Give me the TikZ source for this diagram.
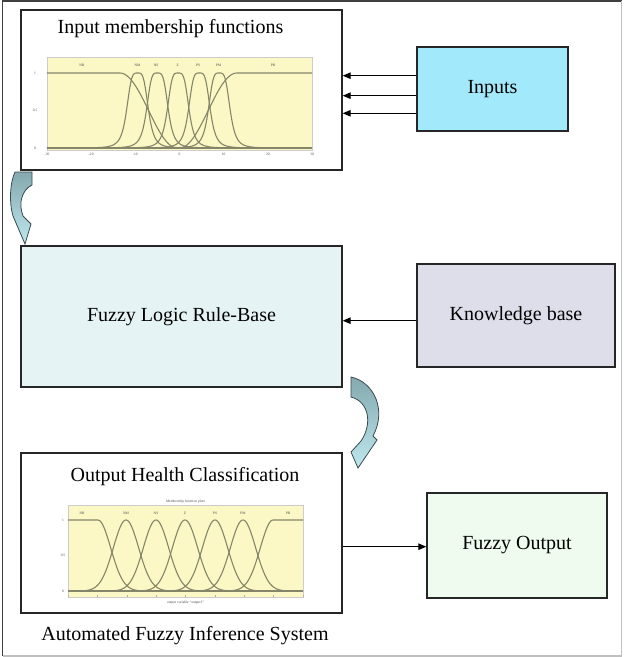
\documentclass[tikz,border=0pt]{standalone}
\usepackage{fontspec}
\setmainfont{Liberation Serif}
\usetikzlibrary{arrows.meta}

\definecolor{boxline}{HTML}{262626}
\definecolor{inputfill}{HTML}{A2E9FB}
\definecolor{rulefill}{HTML}{E6F3F5}
\definecolor{kbfill}{HTML}{DEDEEB}
\definecolor{outfill}{HTML}{EEFBEE}
\definecolor{plotyel}{HTML}{FBF8C6}
\definecolor{curvecol}{HTML}{85856A}
\definecolor{arrdark}{HTML}{84A9AF}
\definecolor{arrlight}{HTML}{BDE7EE}
\definecolor{arredge}{HTML}{3A4A4C}

\begin{document}
\begin{tikzpicture}[x=1pt,y=-1pt,
  box/.style={draw=boxline, line width=1.4pt, inner sep=0pt},
  lbl/.style={font=\fontsize{20}{23}\selectfont, inner sep=0pt},
  link/.style={draw=black, line width=1.1pt, -{Triangle[length=8pt,width=6.5pt]}},
  mfcurve/.style={draw=curvecol, line width=1.1pt},
  tinytxt/.style={font=\fontsize{3.6}{4}\selectfont, text=black!70, inner sep=0pt},
  bendarrow/.style={top color=arrdark, bottom color=arrlight, draw=arredge, line width=0.8pt}]

\useasboundingbox (0,0) rectangle (624,657);
\fill[white] (0,0) rectangle (624,657);

% outer frame
\draw[black!75, line width=1.2pt] (2.5,656) -- (2.5,1) -- (621.5,1);
\draw[black!25, line width=1.2pt] (621.5,1) -- (621.5,656) -- (2.5,656);

% boxes
\node[box, minimum width=321pt, minimum height=160pt] (inmf) at (181.5,90) {};
\node[lbl] (inmftitle) at (170.5,29) {Input membership functions};
\node[box, fill=inputfill, lbl, minimum width=151pt, minimum height=84pt] (inputs) at (492.5,89) {Inputs};
\node[box, fill=rulefill, lbl, minimum width=321pt, minimum height=141pt] (rulebase) at (181.5,316.5) {Fuzzy Logic Rule-Base};
\node[box, fill=kbfill, lbl, minimum width=198pt, minimum height=103pt] (kbase) at (516,315.5) {Knowledge base};
\node[box, minimum width=321pt, minimum height=160pt] (outcls) at (181.5,533) {};
\node[lbl] (outtitle) at (185,477) {Output Health Classification};
\node[box, fill=outfill, lbl, minimum width=180pt, minimum height=105pt] (fout) at (517,545.5) {Fuzzy Output};
\node[lbl] (systitle) at (185,636) {Automated Fuzzy Inference System};

% connectors
\coordinate (a1) at (0,75.7);
\coordinate (a2) at (0,95.7);
\coordinate (a3) at (0,113.3);
\coordinate (a4) at (0,320.7);
\coordinate (a5) at (0,546.7);
\draw[link] (a1 -| inputs.west) -- (a1 -| inmf.east);
\draw[link] (a2 -| inputs.west) -- (a2 -| inmf.east);
\draw[link] (a3 -| inputs.west) -- (a3 -| inmf.east);
\draw[link] (a4 -| kbase.west) -- (a4 -| rulebase.east);
\draw[link] (a5 -| outcls.east) -- (a5 -| fout.west);

% bent block arrows between the stages
\shadedraw[bendarrow]
  (15,172) -- (32,172) -- (32,185)
  .. controls (22,190) and (18,203) .. (23,216)
  -- (31,224) -- (25,244) -- (13,216)
  .. controls (9,203) and (10,182) .. (15,172) -- cycle;
\shadedraw[bendarrow]
  (351,377) .. controls (374,382) and (387,410) .. (373,436)
  -- (377,440) -- (358,468) -- (351,452) -- (361,441)
  .. controls (372,425) and (370,402) .. (351,397) -- cycle;

% ---------- input membership function plot ----------
\fill[plotyel] (47,57) rectangle (312,150);
\draw[black!20, line width=0.4pt] (47,57) rectangle (312,150);
\begin{scope}[shift={(179.5pt,-148pt)}, x=4.4167pt, y=75pt]
  \draw[mfcurve] (-30,0) -- (30,0);
  \draw[mfcurve] (-30,1) -- (-13.5,1)
     plot[domain=-13.5:-0.5, samples=40] (\x,{0.5+0.5*cos(180*(\x+13.5)/13)}) -- (30,0);
  \draw[mfcurve] (-30,0) -- (0,0)
     plot[domain=0:13, samples=40] (\x,{0.5-0.5*cos(180*\x/13)}) -- (30,1);
  \foreach \c in {-9.5,-5,-0.3,4.5,9}
    \draw[mfcurve] plot[domain=\c-12:\c+12, samples=97] (\x,{1/(1+((\x-\c)*(\x-\c)/6.25)^2)});
  \foreach \u/\t [count=\i] in {-22.1/NB,-9.5/NM,-5.3/NS,-0.4/Z,4.2/PS,8.8/PM,21.2/PB}
    \node[tinytxt] (inlab\i) at (\u,1.107) {\t};
  \foreach \u [count=\i] in {-30,-20,-10,0,10,20,30}
    \node[tinytxt] (intick\i) at (\u,-0.08) {\u};
  \node[tinytxt] (iny1) at (-32.7,1) {1};
  \node[tinytxt] (iny2) at (-32.7,0.5) {0.5};
  \node[tinytxt] (iny3) at (-32.7,0) {0};
\end{scope}

% ---------- output membership function plot ----------
\node[tinytxt] (outplottitle) at (185.5,501.5) {Membership function plots};
\fill[plotyel] (68,505) rectangle (303,597);
\draw[black!20, line width=0.4pt] (68,505) rectangle (303,597);
\foreach \k in {0,...,8}
  \draw[black!30, line width=0.4pt] (68+29.375*\k,597) -- (68+29.375*\k,594.5);
\begin{scope}[shift={(68pt,-591pt)}, x=1pt, y=71pt]
  \draw[mfcurve] (0,0) -- (235,0);
  \draw[mfcurve] (0,1) -- (30,1)
     plot[domain=30:80, samples=40] (\x,{exp(-((\x-30)^2)/322.6)}) -- (235,0);
  \draw[mfcurve] (0,0) -- (155,0)
     plot[domain=155:205, samples=40] (\x,{exp(-((\x-205)^2)/322.6)}) -- (235,1);
  \foreach \c in {58,88,117,147,175}
    \draw[mfcurve] plot[domain=\c-50:\c+50, samples=101] (\x,{exp(-((\x-\c)^2)/322.6)});
  \foreach \u/\t [count=\i] in {14/NB,58/NM,88/NS,117/Z,147/PS,175/PM,220/PB}
    \node[tinytxt] (outlab\i) at (\u,1.1) {\t};
  \node[tinytxt] (outy1) at (-5,1) {1};
  \node[tinytxt] (outy2) at (-5,0.5) {0.5};
  \node[tinytxt] (outy3) at (-5,0) {0};
\end{scope}
\node[tinytxt] (outxlabel) at (185.5,603) {output variable ``output1''};

\end{tikzpicture}
\end{document}
